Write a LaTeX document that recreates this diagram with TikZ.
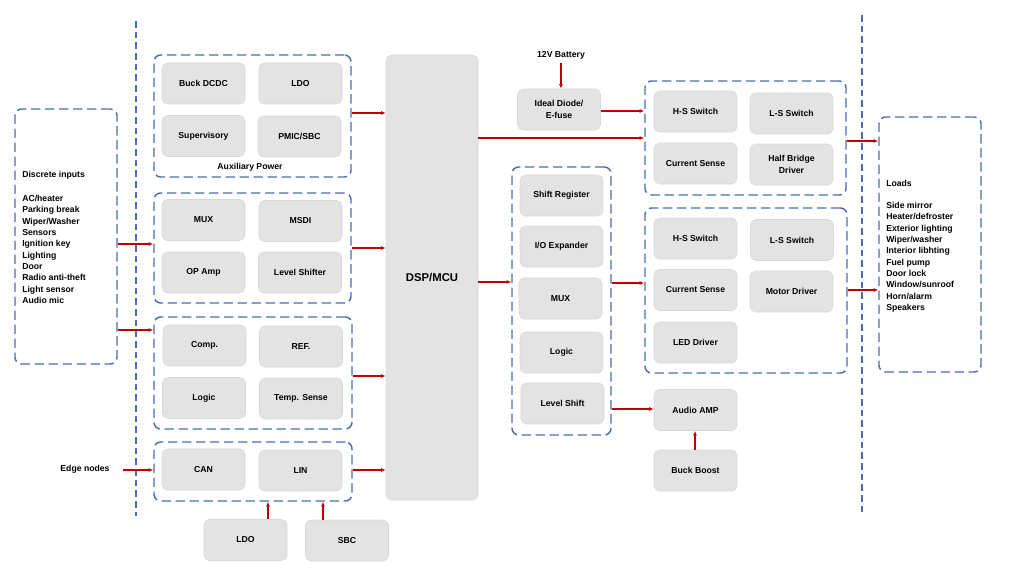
\documentclass[tikz,border=0pt]{standalone}
\usepackage{fontspec}
\setmainfont{Liberation Sans}
\usetikzlibrary{arrows.meta,fit}
\definecolor{grpblue}{HTML}{4A6DB3}
\definecolor{boxgray}{HTML}{E3E3E3}
\definecolor{boxedge}{HTML}{D8D8D8}
\definecolor{arrred}{HTML}{C00000}
\tikzset{
  gbox/.style={fill=boxgray, draw=boxedge, line width=0.4pt, rounded corners=4pt, inner sep=0pt, align=center,
               minimum width=62.25pt, minimum height=30.75pt},
  grp/.style={draw=grpblue, line width=1.1pt, dash pattern=on 7pt off 3.5pt, rounded corners=5pt, inner sep=0pt},
  arr/.style={draw=arrred, line width=0.9pt, -{Latex[length=3.5pt,width=3pt]}},
  sepline/.style={draw=grpblue, line width=1pt, dash pattern=on 5pt off 3pt},
  txt/.style={inner sep=0pt, align=left}
}
\begin{document}
\begin{tikzpicture}[x=0.75pt,y=-0.75pt, font=\fontsize{6.5}{8.5}\selectfont\bfseries]
\useasboundingbox (0,0) rectangle (1009,572);

% separators
\draw[sepline] (136,21) -- (136,516);
\draw[sepline] (862,15) -- (862,515);

% discrete inputs
\node[grp, fit={(15,109) (117,364)}] (din) {};
\node[txt, anchor=north west] (dtxt) at (22,171) {Discrete inputs\\[9.5pt]AC/heater\\Parking break\\Wiper/Washer\\Sensors\\Ignition key\\Lighting\\Door\\Radio anti-theft\\Light sensor\\Audio mic};

% group 1
\node[grp, fit={(154,55) (351,177)}] (g1) {};
\node[gbox] (buck) at (203.5,83.5) {Buck DCDC};
\node[gbox] (ldoa) at (300.5,83.5) {LDO};
\node[gbox] (sup) at (203.5,136) {Supervisory};
\node[gbox] (pmic) at (299.5,136.5) {PMIC/SBC};
\node[inner sep=0pt] (auxl) at (250,167) {Auxiliary Power};

% group 2
\node[grp, fit={(154,193) (351,303)}] (g2) {};
\node[gbox] (muxa) at (203.5,220) {MUX};
\node[gbox] (msdi) at (300.5,221) {MSDI};
\node[gbox] (opamp) at (203.5,272.5) {OP Amp};
\node[gbox] (lvlsh) at (300,272.5) {Level Shifter};

% group 3
\node[grp, fit={(154,317) (352,429)}] (g3) {};
\node[gbox] (comp) at (204.5,345.5) {Comp.};
\node[gbox] (ref) at (301,346.5) {REF.};
\node[gbox] (logica) at (204,398) {Logic};
\node[gbox] (temp) at (301,398.5) {Temp. Sense};

% group 4
\node[grp, fit={(154,442) (352,501)}] (g4) {};
\node[gbox] (can) at (203.5,469.5) {CAN};
\node[gbox] (lin) at (300.5,470.5) {LIN};
\node[gbox] (ldob) at (245.5,540) {LDO};
\node[gbox] (sbc) at (347,540.5) {SBC};
\node[inner sep=0pt] (edge) at (85,469) {Edge nodes};

% DSP
\node[gbox, minimum width=69pt, minimum height=333.75pt, font=\fontsize{8.5}{10}\selectfont\bfseries] (dsp) at (432,277.5) {DSP/MCU};

% battery / ideal diode
\node[inner sep=0pt] (bat) at (561,55) {12V Battery};
\node[gbox] (ideal) at (559,109.5) {Ideal Diode/\\E-fuse};

% middle group
\node[grp, fit={(512,167) (611,435)}] (g5) {};
\node[gbox] (shreg) at (561.5,195.5) {Shift Register};
\node[gbox] (ioexp) at (561.5,246.5) {I/O Expander};
\node[gbox] (muxb) at (560.5,298.5) {MUX};
\node[gbox] (logicb) at (561.5,352.5) {Logic};
\node[gbox] (lvl) at (562.5,403.5) {Level Shift};

% right group A
\node[grp, fit={(645,81) (846,195)}] (g6) {};
\node[gbox] (hsa) at (695.5,111.5) {H-S Switch};
\node[gbox] (lsa) at (791.5,113.5) {L-S Switch};
\node[gbox] (csa) at (695.5,163.5) {Current Sense};
\node[gbox] (hb) at (791.5,164.5) {Half Bridge\\Driver};

% right group B
\node[grp, fit={(645,208) (847,373)}] (g7) {};
\node[gbox] (hsb) at (695.5,238.5) {H-S Switch};
\node[gbox] (lsb) at (792,240) {L-S Switch};
\node[gbox] (csb) at (695.5,290) {Current Sense};
\node[gbox] (motor) at (791.5,291.5) {Motor Driver};
\node[gbox] (led) at (695.5,342.5) {LED Driver};

% audio
\node[gbox] (audio) at (695.5,410) {Audio AMP};
\node[gbox] (bb) at (695.5,470.5) {Buck Boost};

% loads
\node[grp, fit={(879,117) (981,372)}] (loads) {};
\node[txt, anchor=north west] (ltxt) at (886,180) {Loads\\[8pt]Side mirror\\Heater/defroster\\Exterior lighting\\Wiper/washer\\Interior libhting\\Fuel pump\\Door lock\\Window/sunroof\\Horn/alarm\\Speakers};

% arrows
\draw[arr] (din.east |- 0,244) -- (g2.west |- 0,244);
\draw[arr] (din.east |- 0,330) -- (g3.west |- 0,330);
\draw[arr, shorten <=10pt] (edge.east |- 0,470) -- (g4.west |- 0,470);
\draw[arr] (g1.east |- 0,113) -- (dsp.west |- 0,113);
\draw[arr] (g2.east |- 0,248) -- (dsp.west |- 0,248);
\draw[arr] (g3.east |- 0,376) -- (dsp.west |- 0,376);
\draw[arr] (g4.east |- 0,470) -- (dsp.west |- 0,470);
\draw[arr] (ldob.north -| 268,0) -- (g4.south -| 268,0);
\draw[arr] (sbc.north -| 323,0) -- (g4.south -| 323,0);
\draw[arr, shorten <=3pt] (bat.south) -- (ideal.north -| bat.south);
\draw[arr] (ideal.east |- 0,111) -- (g6.west |- 0,111);
\draw[arr] (dsp.east |- 0,138) -- (g6.west |- 0,138);
\draw[arr] (dsp.east |- 0,282) -- (g5.west |- 0,282);
\draw[arr] (g5.east |- 0,283) -- (g7.west |- 0,283);
\draw[arr] (g5.east |- 0,409) -- (audio.west |- 0,409);
\draw[arr] (bb.north -| 695,0) -- (audio.south -| 695,0);
\draw[arr] (g6.east |- 0,141) -- (loads.west |- 0,141);
\draw[arr] (g7.east |- 0,290) -- (loads.west |- 0,290);
\end{tikzpicture}
\end{document}
